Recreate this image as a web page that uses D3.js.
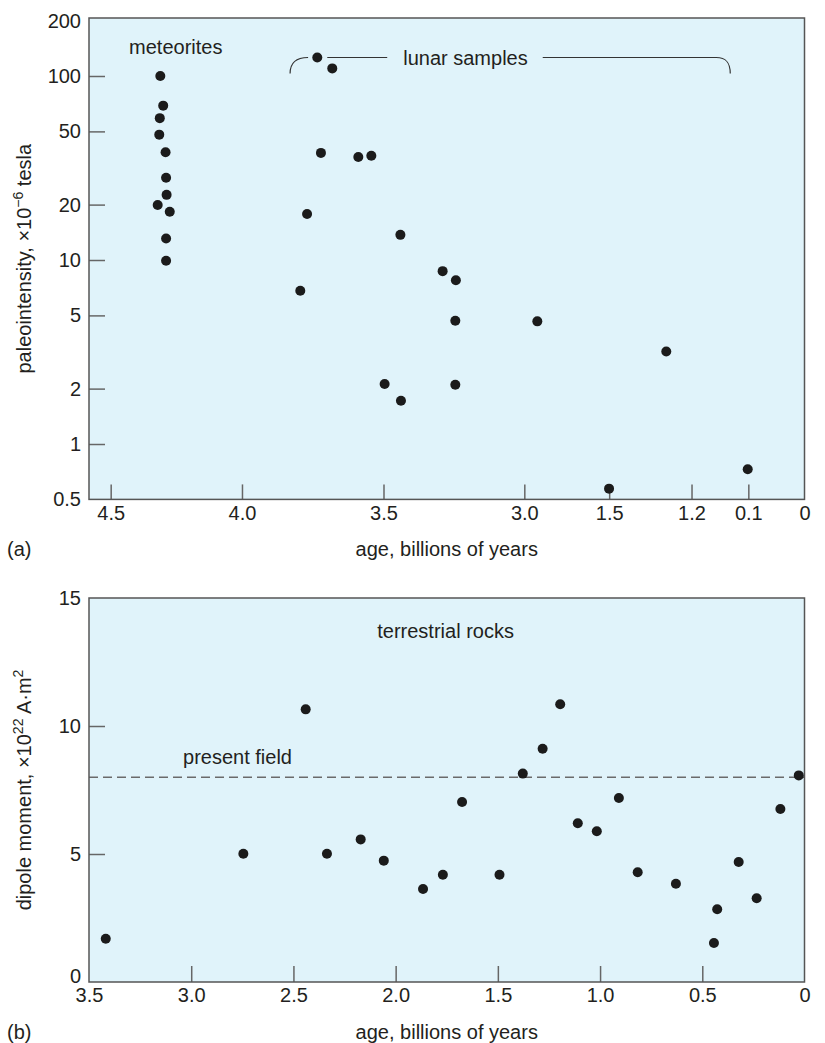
<!DOCTYPE html>
<html>
<head>
<meta charset="utf-8">
<script src="https://cdn.jsdelivr.net/npm/d3@7"></script>
<style>
  html, body { margin: 0; padding: 0; background: #fff; }
  svg { display: block; }
  text { font-family: "Liberation Sans", Arial, sans-serif; fill: #231f20; }
</style>
</head>
<body>
<svg id="chart" width="825" height="1043"></svg>
<script>
// ---------------- DATA ----------------
// (a) paleointensity, x10^-6 tesla, vs age (billions of years)
const meteoriteAge   = [4.311, 4.30, 4.313, 4.315, 4.291, 4.289, 4.287, 4.321, 4.275, 4.289, 4.289];
const meteoriteField = [100, 69, 59, 48, 38.5, 28, 22.6, 19.9, 18.3, 13.1, 9.9];

const lunarAge   = [3.734, 3.681, 3.721, 3.589, 3.543, 3.770, 3.794, 3.440, 3.496, 3.438, 3.290, 3.243, 3.245, 3.245, 2.77, 1.292, 1.502, 0.112];
const lunarField = [126, 110, 38.2, 36.3, 36.9, 17.8, 6.8, 13.7, 2.12, 1.72, 8.7, 7.76, 4.68, 2.10, 4.64, 3.18, 0.572, 0.729];

// (b) dipole moment, x10^22 A·m², vs age
const terrestrialAge    = [2.44, 2.745, 2.336, 2.171, 2.058, 1.866, 1.769, 3.418, 1.675, 1.492, 1.378, 1.281, 1.195, 1.109, 1.016, 0.908, 0.816, 0.629, 0.427, 0.443, 0.322, 0.234, 0.118, 0.028];
const terrestrialMoment = [10.65, 5.01, 5.01, 5.57, 4.74, 3.63, 4.19, 1.69, 7.03, 4.19, 8.14, 9.11, 10.85, 6.2, 5.89, 7.19, 4.29, 3.84, 2.84, 1.52, 4.69, 3.27, 6.76, 8.07];
const presentField = 8.0;

// ticks
const topXTicks = [4.5, 4.0, 3.5, 3.0, 1.5, 1.2, 0.1, 0];
const topXTickLabels = ["4.5", "4.0", "3.5", "3.0", "1.5", "1.2", "0.1", "0"];
const topYTicks = [200, 100, 50, 20, 10, 5, 2, 1, 0.5];
const topYTickLabels = ["200", "100", "50", "20", "10", "5", "2", "1", "0.5"];
const bottomXTicks = [3.5, 3.0, 2.5, 2.0, 1.5, 1.0, 0.5, 0];
const bottomXTickLabels = ["3.5", "3.0", "2.5", "2.0", "1.5", "1.0", "0.5", "0"];
const bottomYTicks = [15, 10, 5, 0];
const bottomYTickLabels = ["15", "10", "5", "0"];

// annotation anchors (data coordinates)
const lunarBracketAges = [3.83, 0.45];
const lunarBracketLevel = 126;
const lunarLabelAge = 3.43;

// ---------------- LAYOUT ----------------
const L = 89, R = 804.5;
const T1 = 18, B1 = 499.4;
const T2 = 598, B2 = 982;
// break positions of the top (non-uniform) age axis, as fractions of width
const topXFrac = [0.0303, 0.2138, 0.4116, 0.6084, 0.7270, 0.8421, 0.9215, 1];

const BG = "#e0f3fa", FRAME = "#555", TICK = "#666", DOT = "#1b1b1b";
const FS = 20;
const FONT = '"Liberation Sans", Arial, sans-serif';

const svg = d3.select("#chart");

// scales
const xTop = d3.scaleLinear().domain(topXTicks).range(topXFrac.map(f => L + f * (R - L)));
const yTop = d3.scaleLog().domain([0.5, 200]).range([B1, 20.6]);
const xBot = d3.scaleLinear().domain([3.5, 0]).range([L, R]);
const yBot = d3.scaleLinear().domain([0, 15]).range([B2, T2]);

function panelBg(top, bottom) {
  svg.append("rect").attr("x", L).attr("y", top).attr("width", R - L).attr("height", bottom - top)
    .attr("fill", BG);
}
function panelFrame(top, bottom) {
  svg.append("rect").attr("x", L).attr("y", top).attr("width", R - L).attr("height", bottom - top)
    .attr("fill", "none").attr("stroke", FRAME).attr("stroke-width", 1.5);
}
function styleAxis(g, hideVals) {
  g.attr("font-size", FS).attr("font-family", FONT);
  g.select(".domain").remove();
  g.selectAll(".tick line").attr("stroke", TICK).attr("stroke-width", 1.5);
  g.selectAll(".tick line").filter(d => hideVals.includes(d)).remove();
  g.selectAll(".tick text").style("font-size", FS + "px").style("font-family", FONT).style("fill", "#231f20");
}

// ---------- Panel (a) ----------
panelBg(T1, B1);

const gxTop = svg.append("g").attr("transform", `translate(0,${B1})`)
  .call(d3.axisBottom(xTop).tickValues(topXTicks).tickSizeInner(-15).tickSizeOuter(0).tickPadding(6)
    .tickFormat((d, i) => topXTickLabels[i]));
styleAxis(gxTop, [0]);

const gyTop = svg.append("g").attr("transform", `translate(${L},0)`)
  .call(d3.axisLeft(yTop).tickValues(topYTicks).tickSizeInner(-16).tickSizeOuter(0).tickPadding(8)
    .tickFormat((d, i) => topYTickLabels[i]));
styleAxis(gyTop, [200, 0.5]);

panelFrame(T1, B1);

svg.append("g").selectAll("circle").data(meteoriteAge.map((a, i) => [a, meteoriteField[i]]))
  .join("circle").attr("cx", d => xTop(d[0])).attr("cy", d => yTop(d[1])).attr("r", 5).attr("fill", DOT);
svg.append("g").selectAll("circle").data(lunarAge.map((a, i) => [a, lunarField[i]]))
  .join("circle").attr("cx", d => xTop(d[0])).attr("cy", d => yTop(d[1])).attr("r", 5).attr("fill", DOT);

// labels
svg.append("text").attr("x", xTop(4.43)).attr("y", 54).attr("font-size", FS).text("meteorites");

// lunar bracket
const by = yTop(lunarBracketLevel);
const bxL = xTop(lunarBracketAges[0]), bxR = xTop(lunarBracketAges[1]);
const dotX = xTop(lunarAge[0]);
const lunarText = svg.append("text").attr("x", xTop(lunarLabelAge)).attr("y", by + 7)
  .attr("font-size", FS).text("lunar samples");
const tStart = xTop(lunarLabelAge);
const tEnd = tStart + lunarText.node().getComputedTextLength();
const bracket = d3.path();
bracket.moveTo(bxL, by + 16);
bracket.bezierCurveTo(bxL, by + 5, bxL + 6, by, bxL + 18, by);
bracket.moveTo(dotX + 10, by);
bracket.lineTo(tStart - 16, by);
bracket.moveTo(tEnd + 15, by);
bracket.lineTo(bxR - 14, by);
bracket.bezierCurveTo(bxR - 4, by, bxR, by + 5, bxR, by + 16);
svg.append("path").attr("d", bracket.toString()).attr("fill", "none")
  .attr("stroke", "#333").attr("stroke-width", 1.2);

// axis titles (a)
svg.append("text").attr("x", (L + R) / 2).attr("y", B1 + 57).attr("text-anchor", "middle")
  .attr("font-size", FS).text("age, billions of years");
svg.append("text").attr("x", 7).attr("y", B1 + 57).attr("font-size", FS).text("(a)");
const ytA = svg.append("text").attr("transform", `translate(31,${(T1 + B1) / 2}) rotate(-90)`)
  .attr("text-anchor", "middle").attr("font-size", FS);
ytA.append("tspan").text("paleointensity, ×10");
ytA.append("tspan").attr("font-size", 14).attr("dy", -8).text("−6");
ytA.append("tspan").attr("dy", 8).text(" tesla");

// ---------- Panel (b) ----------
panelBg(T2, B2);

const gxBot = svg.append("g").attr("transform", `translate(0,${B2})`)
  .call(d3.axisBottom(xBot).tickValues(bottomXTicks).tickSizeInner(-16).tickSizeOuter(0).tickPadding(6)
    .tickFormat((d, i) => bottomXTickLabels[i]));
styleAxis(gxBot, [3.5, 0]);

const gyBot = svg.append("g").attr("transform", `translate(${L},0)`)
  .call(d3.axisLeft(yBot).tickValues(bottomYTicks).tickSizeInner(-16).tickSizeOuter(0).tickPadding(8)
    .tickFormat((d, i) => bottomYTickLabels[i]));
styleAxis(gyBot, [15, 0]);
// lift the corner "0" label so it clears the x labels
gyBot.selectAll(".tick text").filter(d => d === 0).attr("dy", "0.0em");

// present field dashed line
svg.append("line").attr("x1", L).attr("x2", R).attr("y1", yBot(presentField)).attr("y2", yBot(presentField))
  .attr("stroke", "#6a6a6a").attr("stroke-width", 1.5).attr("stroke-dasharray", "9,5");

panelFrame(T2, B2);

svg.append("g").selectAll("circle").data(terrestrialAge.map((a, i) => [a, terrestrialMoment[i]]))
  .join("circle").attr("cx", d => xBot(d[0])).attr("cy", d => yBot(d[1])).attr("r", 5).attr("fill", DOT);

svg.append("text").attr("x", xBot(3.04)).attr("y", yBot(presentField) - 13).attr("font-size", FS).text("present field");
svg.append("text").attr("x", xBot(2.09)).attr("y", T2 + 40).attr("font-size", FS).text("terrestrial rocks");

svg.append("text").attr("x", (L + R) / 2).attr("y", B2 + 57).attr("text-anchor", "middle")
  .attr("font-size", FS).text("age, billions of years");
svg.append("text").attr("x", 7).attr("y", B2 + 57).attr("font-size", FS).text("(b)");
const ytB = svg.append("text").attr("transform", `translate(31,${(T2 + B2) / 2}) rotate(-90)`)
  .attr("text-anchor", "middle").attr("font-size", FS);
ytB.append("tspan").text("dipole moment, ×10");
ytB.append("tspan").attr("font-size", 14).attr("dy", -8).text("22");
ytB.append("tspan").attr("dy", 8).text(" A·m");
ytB.append("tspan").attr("font-size", 14).attr("dy", -8).text("2");
</script>
</body>
</html>
